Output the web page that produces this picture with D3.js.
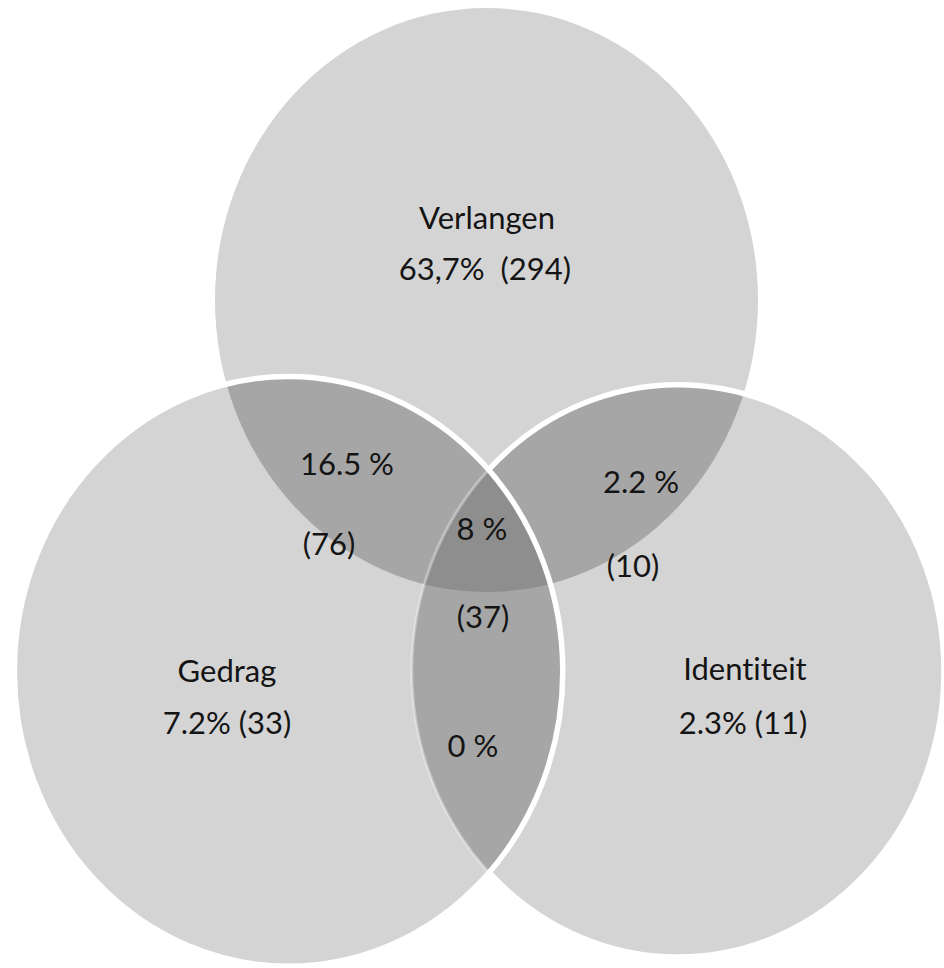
<!DOCTYPE html>
<html>
<head>
<meta charset="utf-8">
<script src="https://cdn.jsdelivr.net/npm/d3@7"></script>
<style>
  html, body { margin: 0; padding: 0; background: #ffffff; }
  svg { display: block; }
  text { font-family: Lato, "Open Sans", "DejaVu Sans", sans-serif; font-size: 31px; fill: #141414;
         font-variant-ligatures: none; font-feature-settings: "liga" 0, "clig" 0; }
</style>
</head>
<body>
<svg id="chart" width="944" height="968"></svg>
<script>
// ---------------- data ----------------
const setNames   = ["Verlangen", "Gedrag", "Identiteit"];
const setPct     = ["63,7%", "7.2%", "2.3%"];
const setCount   = [294, 33, 11];

// overlap regions (by set index)
const pairSets   = [[0, 1], [0, 2], [1, 2]];
const pairPct    = ["16.5 %", "2.2 %", "0 %"];
const pairCount  = [76, 10, null];

const tripleSets  = [0, 1, 2];
const triplePct   = "8 %";
const tripleCount = 37;

// ---------------- layout (abstract units, one unit = radius of first set) ----------------
const layoutCx = [0, -0.729, 0.705];
const layoutCy = [0, 1.272, 1.27];
const layoutR  = [1, 1.01, 0.98];

// label anchors (abstract units)
const setNameAt  = [[0.002, -0.243], [-0.956, 1.308], [0.952, 1.301]];
const setValAt   = [[-0.006, -0.068], [-0.956, 1.486], [0.945, 1.486]];
const pairPctAt  = [[-0.514, 0.599], [0.569, 0.661], [-0.050, 1.565]];
const pairCntAt  = [[-0.580, 0.873], [0.540, 0.949], null];
const triplePctAt = [-0.017, 0.822];
const tripleCntAt = [-0.013, 1.123];

// ---------------- scales ----------------
const x = d3.scaleLinear().domain([-1, 1]).range([215, 758]);
const y = d3.scaleLinear().domain([-1, 1]).range([8, 592]);
const rx = r => x(r) - x(0);
const ry = r => y(r) - y(0);

const colSingle = "#d4d4d4";
const colPair   = "#a6a6a6";
const colTriple = "#8e8e8e";

const svg = d3.select("#chart");
const defs = svg.append("defs");

const sets = setNames.map((name, i) => ({
  name, i, cx: x(layoutCx[i]), cy: y(layoutCy[i]), rx: rx(layoutR[i]), ry: ry(layoutR[i])
}));

// clip paths for each set
defs.selectAll("clipPath.set")
  .data(sets)
  .join("clipPath")
  .attr("class", "set")
  .attr("id", d => "clip" + d.i)
  .append("ellipse")
  .attr("cx", d => d.cx).attr("cy", d => d.cy)
  .attr("rx", d => d.rx).attr("ry", d => d.ry);

// mask: everything except inside set 1 (Gedrag)
const mask = defs.append("mask").attr("id", "outsideGedrag")
  .attr("maskUnits", "userSpaceOnUse").attr("x", 0).attr("y", 0).attr("width", 944).attr("height", 968);
mask.append("rect").attr("width", 944).attr("height", 968).attr("fill", "white");
mask.append("ellipse")
  .attr("cx", sets[1].cx).attr("cy", sets[1].cy)
  .attr("rx", sets[1].rx).attr("ry", sets[1].ry).attr("fill", "black");

const ellipse = (sel, d) => sel.attr("cx", d.cx).attr("cy", d.cy).attr("rx", d.rx).attr("ry", d.ry);

// single-set fills
svg.append("g").selectAll("ellipse")
  .data(sets).join("ellipse")
  .attr("cx", d => d.cx).attr("cy", d => d.cy)
  .attr("rx", d => d.rx).attr("ry", d => d.ry)
  .attr("fill", colSingle);

// pair overlaps
const pairG = svg.append("g");
pairSets.forEach(([a, b]) => {
  pairG.append("ellipse").call(ellipse, sets[a])
    .attr("clip-path", `url(#clip${b})`)
    .attr("fill", colPair);
});

// triple overlap
svg.append("g").attr("clip-path", `url(#clip${tripleSets[2]})`)
  .append("ellipse").call(ellipse, sets[tripleSets[0]])
  .attr("clip-path", `url(#clip${tripleSets[1]})`)
  .attr("fill", colTriple);

// outlines
// Identiteit outline: white outside Gedrag, faint inside Gedrag
svg.append("ellipse").call(ellipse, sets[2])
  .attr("fill", "none").attr("stroke", "#ffffff").attr("stroke-width", 3)
  .attr("stroke-opacity", 0.35)
  .attr("clip-path", "url(#clip1)");
svg.append("ellipse").call(ellipse, sets[2])
  .attr("fill", "none").attr("stroke", "#ffffff").attr("stroke-width", 5.5)
  .attr("mask", "url(#outsideGedrag)");
// Gedrag outline: white all round
svg.append("ellipse").call(ellipse, sets[1])
  .attr("fill", "none").attr("stroke", "#ffffff").attr("stroke-width", 5.5);

// ---------------- labels ----------------
const labels = [];
sets.forEach((d, i) => {
  labels.push({ t: d.name, p: setNameAt[i] });
  labels.push({ t: i === 0 ? `${setPct[i]}\u00a0 (${setCount[i]})` : `${setPct[i]} (${setCount[i]})`, p: setValAt[i] });
});
pairSets.forEach((s, i) => {
  labels.push({ t: pairPct[i], p: pairPctAt[i] });
  if (pairCount[i] !== null) labels.push({ t: `(${pairCount[i]})`, p: pairCntAt[i] });
});
labels.push({ t: triplePct, p: triplePctAt });
labels.push({ t: `(${tripleCount})`, p: tripleCntAt });

svg.append("g").selectAll("text")
  .data(labels).join("text")
  .attr("x", d => x(d.p[0]))
  .attr("y", d => y(d.p[1]))
  .attr("text-anchor", "middle")
  .text(d => d.t);
</script>
</body>
</html>
